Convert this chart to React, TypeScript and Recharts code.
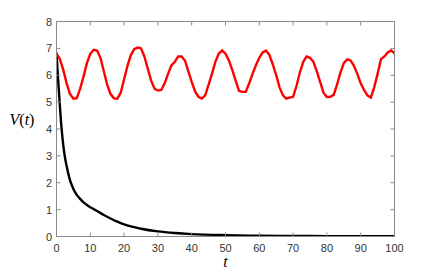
import { LineChart, Line, XAxis, YAxis, Label } from "recharts";

// red trajectory, sampled once per unit of t (t = 0..100)
const redV = [
  6.8, 6.6, 6.2, 5.7, 5.3, 5.13, 5.15, 5.5, 5.95, 6.45,
  6.8, 6.95, 6.92, 6.65, 6.15, 5.65, 5.3, 5.14, 5.13, 5.35,
  5.85, 6.35, 6.75, 6.97, 7.03, 7.0, 6.7, 6.25, 5.8, 5.5,
  5.43, 5.45, 5.7, 6.05, 6.37, 6.5, 6.7, 6.7, 6.55, 6.15,
  5.75, 5.4, 5.2, 5.13, 5.25, 5.65, 6.05, 6.5, 6.8, 6.92,
  6.8, 6.55, 6.2, 5.8, 5.42, 5.38, 5.38, 5.7, 6.05, 6.37,
  6.65, 6.85, 6.92, 6.75, 6.4, 6.0, 5.55, 5.25, 5.13, 5.17,
  5.2, 5.6, 6.1, 6.5, 6.7, 6.65, 6.5, 6.15, 5.75, 5.35,
  5.19, 5.2, 5.27, 5.65, 6.1, 6.45, 6.59, 6.55, 6.35, 6.05,
  5.7, 5.45, 5.25, 5.17, 5.55, 6.05, 6.6, 6.7, 6.85, 6.92,
  6.82,
];

// black decaying trajectory
const blackT = [
  0, 0.5, 1, 1.5, 2, 2.5, 3, 3.5, 4, 4.5, 5, 6, 7, 8, 9, 10, 11, 12, 14, 16,
  18, 20, 25, 30, 35, 40, 50, 60, 70, 80, 90, 100,
];
const blackV = [
  6.85, 5.8, 4.85, 4.02, 3.4, 2.95, 2.62, 2.33, 2.1, 1.92, 1.77, 1.55, 1.4,
  1.27, 1.17, 1.09, 1.02, 0.95, 0.8, 0.67, 0.55, 0.45, 0.29, 0.19, 0.13,
  0.09, 0.05, 0.03, 0.02, 0.015, 0.01, 0.01,
];

const xTicks = [0, 10, 20, 30, 40, 50, 60, 70, 80, 90, 100];
const yTicks = [0, 1, 2, 3, 4, 5, 6, 7, 8];

const redData = redV.map((v, i) => ({ t: i, v }));
const blackData = blackT.map((t, i) => ({ t, v: blackV[i] }));

const axisGray = "#8a8a8a";
const labelFont = "Liberation Sans, Arial, sans-serif";
const mathFont = "Liberation Serif, DejaVu Serif, serif";
const GAP = 8; // tickSize used to offset the tick props from the axis line
const IN = 4; // inward tick length

/* ticks point inward, labels sit outside (MATLAB style) */
function BottomTick({ x, y, payload }: any) {
  const ay = y - GAP;
  return (
    <g>
      <line x1={x} x2={x} y1={ay} y2={ay - IN} stroke={axisGray} />
      <text x={x} y={ay + 15.8} textAnchor="middle" fontSize={11} fill="#333" fontFamily={labelFont}>
        {payload.value}
      </text>
    </g>
  );
}

function LeftTick({ x, y, payload }: any) {
  const ax = x + GAP;
  return (
    <g>
      <line x1={ax} x2={ax + IN} y1={y} y2={y} stroke={axisGray} />
      <text x={ax - 4.5} y={y + 4} textAnchor="end" fontSize={11} fill="#333" fontFamily={labelFont}>
        {payload.value}
      </text>
    </g>
  );
}

function TopTick({ x, y }: any) {
  const ay = y + GAP;
  return <line x1={x} x2={x} y1={ay} y2={ay + IN} stroke={axisGray} />;
}

function RightTick({ x, y }: any) {
  const ax = x - GAP;
  return <line x1={ax} x2={ax - IN} y1={y} y2={y} stroke={axisGray} />;
}

function YLabel({ viewBox }: any) {
  const cy = viewBox.y + viewBox.height / 2 - 8;
  return (
    <text x={14} y={cy} textAnchor="middle" dominantBaseline="middle" fontFamily={mathFont} fontSize={16} fill="#000">
      <tspan fontStyle="italic">V</tspan>
      <tspan>(</tspan>
      <tspan fontStyle="italic">t</tspan>
      <tspan>)</tspan>
    </text>
  );
}

function XLabel({ viewBox }: any) {
  const cx = viewBox.x + viewBox.width / 2;
  return (
    <text x={cx} y={viewBox.y + 26.5} textAnchor="middle" dominantBaseline="middle" fontFamily={mathFont} fontStyle="italic" fontSize={16} fill="#000">
      t
    </text>
  );
}

export default function App() {
  return (
    <div style={{ width: 420, height: 265, background: "#fff" }}>
      <LineChart width={420} height={265} margin={{ top: 12.5, right: 32.5, bottom: 16.5, left: 8.5 }}>
        <XAxis
          dataKey="t"
          type="number"
          domain={[0, 100]}
          ticks={xTicks}
          allowDataOverflow
          height={20}
          tickSize={GAP}
          tickMargin={0}
          tickLine={false}
          stroke={axisGray}
          tick={<BottomTick />}
        >
          <Label content={<XLabel />} />
        </XAxis>
        <XAxis
          xAxisId="top"
          orientation="top"
          dataKey="t"
          type="number"
          domain={[0, 100]}
          ticks={xTicks}
          allowDataOverflow
          height={1}
          tickSize={GAP}
          tickMargin={0}
          tickLine={false}
          stroke={axisGray}
          tick={<TopTick />}
        />
        <YAxis
          type="number"
          domain={[0, 8]}
          ticks={yTicks}
          allowDataOverflow
          width={40}
          tickSize={GAP}
          tickMargin={0}
          tickLine={false}
          stroke={axisGray}
          tick={<LeftTick />}
        >
          <Label content={<YLabel />} />
        </YAxis>
        <YAxis
          yAxisId="right"
          orientation="right"
          type="number"
          domain={[0, 8]}
          ticks={yTicks}
          allowDataOverflow
          width={1}
          tickSize={GAP}
          tickMargin={0}
          tickLine={false}
          stroke={axisGray}
          tick={<RightTick />}
        />
        <Line
          data={blackData}
          dataKey="v"
          type="monotone"
          stroke="#000"
          strokeWidth={2.4}
          dot={false}
          isAnimationActive={false}
        />
        <Line
          xAxisId="top"
          yAxisId="right"
          data={redData}
          dataKey="v"
          type="linear"
          stroke="#ff0000"
          strokeWidth={2.4}
          dot={false}
          isAnimationActive={false}
        />
      </LineChart>
    </div>
  );
}
